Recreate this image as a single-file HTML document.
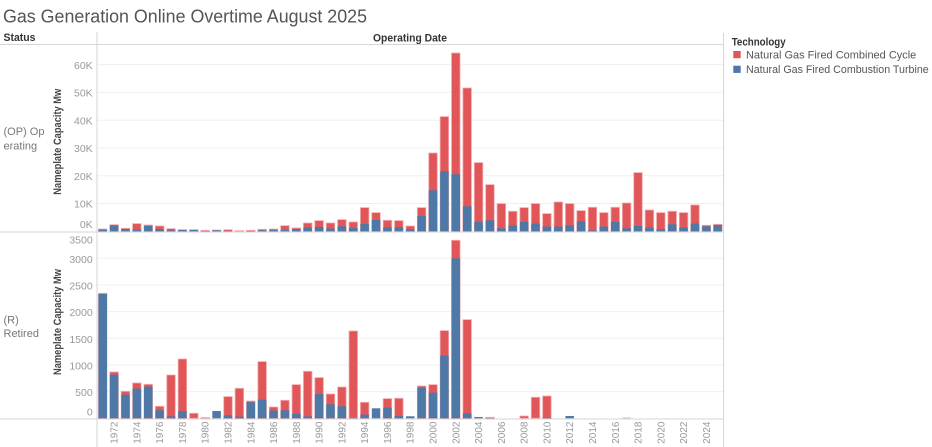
<!DOCTYPE html>
<html><head><meta charset="utf-8"><style>
html,body{margin:0;padding:0;background:#fff;}
svg{display:block;font-family:"Liberation Sans",sans-serif;}
</style></head><body>
<svg width="932" height="447" viewBox="0 0 932 447" xmlns="http://www.w3.org/2000/svg">
<rect width="932" height="447" fill="#fff"/>
<!-- title -->
<text x="3" y="22.5" font-size="18.5" fill="#555" textLength="364" lengthAdjust="spacingAndGlyphs">Gas Generation Online Overtime August 2025</text>
<!-- headers -->
<text x="3.5" y="41" font-size="11" font-weight="bold" fill="#333" textLength="32" lengthAdjust="spacingAndGlyphs">Status</text>
<text x="410" y="41.5" font-size="11" font-weight="bold" fill="#333" text-anchor="middle" textLength="74" lengthAdjust="spacingAndGlyphs">Operating Date</text>
<!-- gridlines -->
<g stroke="#f0f0f0" stroke-width="1">
<line x1="97" y1="203.5" x2="723" y2="203.5"/>
<line x1="97" y1="175.7" x2="723" y2="175.7"/>
<line x1="97" y1="147.9" x2="723" y2="147.9"/>
<line x1="97" y1="120.2" x2="723" y2="120.2"/>
<line x1="97" y1="92.4" x2="723" y2="92.4"/>
<line x1="97" y1="64.6" x2="723" y2="64.6"/>
<line x1="97" y1="391.6" x2="723" y2="391.6"/>
<line x1="97" y1="365" x2="723" y2="365"/>
<line x1="97" y1="338.3" x2="723" y2="338.3"/>
<line x1="97" y1="311.6" x2="723" y2="311.6"/>
<line x1="97" y1="285" x2="723" y2="285"/>
<line x1="97" y1="258.3" x2="723" y2="258.3"/>
</g>
<!-- structural lines -->
<g stroke="#d6d6d6" stroke-width="1">
<line x1="0" y1="44.5" x2="723.5" y2="44.5"/>
<line x1="0" y1="232" x2="723.5" y2="232"/>
<line x1="0" y1="419" x2="723.5" y2="419"/>
<line x1="97" y1="32" x2="97" y2="447"/>
<line x1="723.5" y1="33" x2="723.5" y2="447"/>
</g>
<!-- row labels -->
<g font-size="11" fill="#777">
<text x="3.5" y="135">(OP) Op</text>
<text x="3.5" y="149.5">erating</text>
<text x="3.5" y="323.3">(R)</text>
<text x="3.5" y="337">Retired</text>
</g>
<!-- axis titles -->
<text transform="translate(61,141.7) rotate(-90)" font-size="11" font-weight="bold" fill="#444" text-anchor="middle" textLength="106" lengthAdjust="spacingAndGlyphs">Nameplate Capacity Mw</text>
<text transform="translate(61,322) rotate(-90)" font-size="11" font-weight="bold" fill="#444" text-anchor="middle" textLength="106" lengthAdjust="spacingAndGlyphs">Nameplate Capacity Mw</text>
<!-- y tick labels -->
<g font-size="10.5" fill="#999" text-anchor="end">
<text x="92.7" y="68.8">60K</text>
<text x="92.7" y="96.6">50K</text>
<text x="92.7" y="124.4">40K</text>
<text x="92.7" y="152.1">30K</text>
<text x="92.7" y="179.9">20K</text>
<text x="92.7" y="207.7">10K</text>
<text x="92.7" y="228.2">0K</text>
<text x="92.7" y="243.3">3500</text>
<text x="92.7" y="262.8">3000</text>
<text x="92.7" y="289.5">2500</text>
<text x="92.7" y="316.1">2000</text>
<text x="92.7" y="342.8">1500</text>
<text x="92.7" y="369.5">1000</text>
<text x="92.7" y="396.1">500</text>
<text x="92.7" y="415.5">0</text>
</g>
<!-- top bars -->
<g transform="translate(98.45,231.3) scale(11.39,-1)">
<g fill="#e15759" stroke="#f3a9aa" stroke-width="0.8" vector-effect="non-scaling-stroke">
<rect x="0" width="0.746" height="2.33" vector-effect="non-scaling-stroke"/>
<rect x="1" width="0.746" height="6.67" vector-effect="non-scaling-stroke"/>
<rect x="2" width="0.746" height="3" vector-effect="non-scaling-stroke"/>
<rect x="3" width="0.746" height="7.67" vector-effect="non-scaling-stroke"/>
<rect x="4" width="0.746" height="6.33" vector-effect="non-scaling-stroke"/>
<rect x="5" width="0.746" height="5.33" vector-effect="non-scaling-stroke"/>
<rect x="6" width="0.746" height="2.67" vector-effect="non-scaling-stroke"/>
<rect x="7" width="0.746" height="1.67" vector-effect="non-scaling-stroke"/>
<rect x="8" width="0.746" height="1.67" vector-effect="non-scaling-stroke"/>
<rect x="9" width="0.746" height="1" vector-effect="non-scaling-stroke"/>
<rect x="10" width="0.746" height="1.33" vector-effect="non-scaling-stroke"/>
<rect x="11" width="0.746" height="1.67" vector-effect="non-scaling-stroke"/>
<rect x="12" width="0.746" height="0.6" vector-effect="non-scaling-stroke"/>
<rect x="13" width="0.746" height="1" vector-effect="non-scaling-stroke"/>
<rect x="14" width="0.746" height="2" vector-effect="non-scaling-stroke"/>
<rect x="15" width="0.746" height="2.33" vector-effect="non-scaling-stroke"/>
<rect x="16" width="0.746" height="5.67" vector-effect="non-scaling-stroke"/>
<rect x="17" width="0.746" height="3.33" vector-effect="non-scaling-stroke"/>
<rect x="18" width="0.746" height="8.33" vector-effect="non-scaling-stroke"/>
<rect x="19" width="0.746" height="10.67" vector-effect="non-scaling-stroke"/>
<rect x="20" width="0.746" height="8.33" vector-effect="non-scaling-stroke"/>
<rect x="21" width="0.746" height="11.67" vector-effect="non-scaling-stroke"/>
<rect x="22" width="0.746" height="9.33" vector-effect="non-scaling-stroke"/>
<rect x="23" width="0.746" height="23.67" vector-effect="non-scaling-stroke"/>
<rect x="24" width="0.746" height="18.67" vector-effect="non-scaling-stroke"/>
<rect x="25" width="0.746" height="11" vector-effect="non-scaling-stroke"/>
<rect x="26" width="0.746" height="10.67" vector-effect="non-scaling-stroke"/>
<rect x="27" width="0.746" height="5.33" vector-effect="non-scaling-stroke"/>
<rect x="28" width="0.746" height="23.67" vector-effect="non-scaling-stroke"/>
<rect x="29" width="0.746" height="78.33" vector-effect="non-scaling-stroke"/>
<rect x="30" width="0.746" height="114.67" vector-effect="non-scaling-stroke"/>
<rect x="31" width="0.746" height="178.33" vector-effect="non-scaling-stroke"/>
<rect x="32" width="0.746" height="143.33" vector-effect="non-scaling-stroke"/>
<rect x="33" width="0.746" height="68.67" vector-effect="non-scaling-stroke"/>
<rect x="34" width="0.746" height="46.67" vector-effect="non-scaling-stroke"/>
<rect x="35" width="0.746" height="27.67" vector-effect="non-scaling-stroke"/>
<rect x="36" width="0.746" height="20" vector-effect="non-scaling-stroke"/>
<rect x="37" width="0.746" height="23.67" vector-effect="non-scaling-stroke"/>
<rect x="38" width="0.746" height="27.67" vector-effect="non-scaling-stroke"/>
<rect x="39" width="0.746" height="17.67" vector-effect="non-scaling-stroke"/>
<rect x="40" width="0.746" height="29.33" vector-effect="non-scaling-stroke"/>
<rect x="41" width="0.746" height="27.67" vector-effect="non-scaling-stroke"/>
<rect x="42" width="0.746" height="20.67" vector-effect="non-scaling-stroke"/>
<rect x="43" width="0.746" height="24" vector-effect="non-scaling-stroke"/>
<rect x="44" width="0.746" height="18.67" vector-effect="non-scaling-stroke"/>
<rect x="45" width="0.746" height="24" vector-effect="non-scaling-stroke"/>
<rect x="46" width="0.746" height="28.33" vector-effect="non-scaling-stroke"/>
<rect x="47" width="0.746" height="58.67" vector-effect="non-scaling-stroke"/>
<rect x="48" width="0.746" height="21.33" vector-effect="non-scaling-stroke"/>
<rect x="49" width="0.746" height="18.67" vector-effect="non-scaling-stroke"/>
<rect x="50" width="0.746" height="20" vector-effect="non-scaling-stroke"/>
<rect x="51" width="0.746" height="18.67" vector-effect="non-scaling-stroke"/>
<rect x="52" width="0.746" height="26.33" vector-effect="non-scaling-stroke"/>
<rect x="53" width="0.746" height="6" vector-effect="non-scaling-stroke"/>
<rect x="54" width="0.746" height="7" vector-effect="non-scaling-stroke"/>
</g>
<g fill="#4e79a7">
<rect x="0" width="0.746" height="1.67"/>
<rect x="1" width="0.746" height="5.67"/>
<rect x="2" width="0.746" height="2.33"/>
<rect x="3" width="0.746" height="1.67"/>
<rect x="4" width="0.746" height="5.33"/>
<rect x="5" width="0.746" height="2.33"/>
<rect x="6" width="0.746" height="1"/>
<rect x="7" width="0.746" height="1.33"/>
<rect x="8" width="0.746" height="1.33"/>
<rect x="9" width="0.746" height="0.33"/>
<rect x="10" width="0.746" height="1"/>
<rect x="11" width="0.746" height="0.33"/>
<rect x="13" width="0.746" height="0.33"/>
<rect x="14" width="0.746" height="1"/>
<rect x="15" width="0.746" height="1.33"/>
<rect x="16" width="0.746" height="1.33"/>
<rect x="17" width="0.746" height="2.33"/>
<rect x="18" width="0.746" height="3.67"/>
<rect x="19" width="0.746" height="4.33"/>
<rect x="20" width="0.746" height="2.67"/>
<rect x="21" width="0.746" height="5"/>
<rect x="22" width="0.746" height="3.33"/>
<rect x="23" width="0.746" height="7.33"/>
<rect x="24" width="0.746" height="11.33"/>
<rect x="25" width="0.746" height="4"/>
<rect x="26" width="0.746" height="4"/>
<rect x="27" width="0.746" height="2"/>
<rect x="28" width="0.746" height="15.33"/>
<rect x="29" width="0.746" height="41"/>
<rect x="30" width="0.746" height="60"/>
<rect x="31" width="0.746" height="57"/>
<rect x="32" width="0.746" height="25"/>
<rect x="33" width="0.746" height="9.67"/>
<rect x="34" width="0.746" height="11"/>
<rect x="35" width="0.746" height="3"/>
<rect x="36" width="0.746" height="5.67"/>
<rect x="37" width="0.746" height="9.33"/>
<rect x="38" width="0.746" height="7.67"/>
<rect x="39" width="0.746" height="4.67"/>
<rect x="40" width="0.746" height="4.67"/>
<rect x="41" width="0.746" height="6"/>
<rect x="42" width="0.746" height="10"/>
<rect x="43" width="0.746" height="1"/>
<rect x="44" width="0.746" height="4.67"/>
<rect x="45" width="0.746" height="9.33"/>
<rect x="46" width="0.746" height="3"/>
<rect x="47" width="0.746" height="5.33"/>
<rect x="48" width="0.746" height="3.67"/>
<rect x="49" width="0.746" height="2.33"/>
<rect x="50" width="0.746" height="7"/>
<rect x="51" width="0.746" height="3.67"/>
<rect x="52" width="0.746" height="7.67"/>
<rect x="53" width="0.746" height="5"/>
<rect x="54" width="0.746" height="6.3"/>
</g>
</g>
<!-- bottom bars -->
<g transform="translate(98.45,418.3) scale(11.39,-1)">
<g fill="#e15759" stroke="#f3a9aa" stroke-width="0.8">
<rect x="0" width="0.746" height="125" vector-effect="non-scaling-stroke"/>
<rect x="1" width="0.746" height="46.33" vector-effect="non-scaling-stroke"/>
<rect x="2" width="0.746" height="27" vector-effect="non-scaling-stroke"/>
<rect x="3" width="0.746" height="35.33" vector-effect="non-scaling-stroke"/>
<rect x="4" width="0.746" height="34" vector-effect="non-scaling-stroke"/>
<rect x="5" width="0.746" height="12" vector-effect="non-scaling-stroke"/>
<rect x="6" width="0.746" height="43.33" vector-effect="non-scaling-stroke"/>
<rect x="7" width="0.746" height="59.33" vector-effect="non-scaling-stroke"/>
<rect x="8" width="0.746" height="5" vector-effect="non-scaling-stroke"/>
<rect x="9" width="0.746" height="0.8" fill="#f0a0a1" vector-effect="non-scaling-stroke"/>
<rect x="11" width="0.746" height="21.67" vector-effect="non-scaling-stroke"/>
<rect x="12" width="0.746" height="30" vector-effect="non-scaling-stroke"/>
<rect x="13" width="0.746" height="17.33" vector-effect="non-scaling-stroke"/>
<rect x="14" width="0.746" height="56.67" vector-effect="non-scaling-stroke"/>
<rect x="15" width="0.746" height="11.33" vector-effect="non-scaling-stroke"/>
<rect x="16" width="0.746" height="18" vector-effect="non-scaling-stroke"/>
<rect x="17" width="0.746" height="33.67" vector-effect="non-scaling-stroke"/>
<rect x="18" width="0.746" height="47" vector-effect="non-scaling-stroke"/>
<rect x="19" width="0.746" height="40.67" vector-effect="non-scaling-stroke"/>
<rect x="20" width="0.746" height="24.33" vector-effect="non-scaling-stroke"/>
<rect x="21" width="0.746" height="31.33" vector-effect="non-scaling-stroke"/>
<rect x="22" width="0.746" height="87.33" vector-effect="non-scaling-stroke"/>
<rect x="23" width="0.746" height="16" vector-effect="non-scaling-stroke"/>
<rect x="25" width="0.746" height="19.67" vector-effect="non-scaling-stroke"/>
<rect x="26" width="0.746" height="20" vector-effect="non-scaling-stroke"/>
<rect x="28" width="0.746" height="32.33" vector-effect="non-scaling-stroke"/>
<rect x="29" width="0.746" height="33.67" vector-effect="non-scaling-stroke"/>
<rect x="30" width="0.746" height="87.67" vector-effect="non-scaling-stroke"/>
<rect x="31" width="0.746" height="178" vector-effect="non-scaling-stroke"/>
<rect x="32" width="0.746" height="98.67" vector-effect="non-scaling-stroke"/>
<rect x="34" width="0.746" height="1" vector-effect="non-scaling-stroke"/>
<rect x="37" width="0.746" height="2.33" vector-effect="non-scaling-stroke"/>
<rect x="38" width="0.746" height="21" vector-effect="non-scaling-stroke"/>
<rect x="39" width="0.746" height="22.33" vector-effect="non-scaling-stroke"/>
</g>
<g fill="#4e79a7">
<rect x="0" width="0.746" height="124.33"/>
<rect x="1" width="0.746" height="43.67"/>
<rect x="2" width="0.746" height="23.67"/>
<rect x="3" width="0.746" height="29.67"/>
<rect x="4" width="0.746" height="31.67"/>
<rect x="5" width="0.746" height="8"/>
<rect x="6" width="0.746" height="2"/>
<rect x="7" width="0.746" height="7.33"/>
<rect x="10" width="0.746" height="7.33"/>
<rect x="11" width="0.746" height="3"/>
<rect x="12" width="0.746" height="1.67"/>
<rect x="13" width="0.746" height="16"/>
<rect x="14" width="0.746" height="18.67"/>
<rect x="15" width="0.746" height="7.67"/>
<rect x="16" width="0.746" height="8"/>
<rect x="17" width="0.746" height="4.33"/>
<rect x="18" width="0.746" height="2"/>
<rect x="19" width="0.746" height="24.33"/>
<rect x="20" width="0.746" height="14"/>
<rect x="21" width="0.746" height="12"/>
<rect x="22" width="0.746" height="0.33"/>
<rect x="23" width="0.746" height="3.67"/>
<rect x="24" width="0.746" height="10"/>
<rect x="25" width="0.746" height="10.67"/>
<rect x="26" width="0.746" height="2.33"/>
<rect x="27" width="0.746" height="2"/>
<rect x="28" width="0.746" height="30.67"/>
<rect x="29" width="0.746" height="25.67"/>
<rect x="30" width="0.746" height="62.67"/>
<rect x="31" width="0.746" height="160"/>
<rect x="32" width="0.746" height="5"/>
<rect x="33" width="0.746" height="1.33"/>
<rect x="34" width="0.746" height="0.33"/>
<rect x="39" width="0.746" height="0.67"/>
<rect x="41" width="0.746" height="2.33"/>
<rect x="46" width="0.746" height="0.8" fill="#a9bdd3"/>
</g>
</g>
<!-- x axis labels -->
<g font-size="10" fill="#999" text-anchor="end">
<text transform="translate(117.59,421.5) rotate(-90)">1972</text>
<text transform="translate(140.37,421.5) rotate(-90)">1974</text>
<text transform="translate(163.15,421.5) rotate(-90)">1976</text>
<text transform="translate(185.93,421.5) rotate(-90)">1978</text>
<text transform="translate(208.71,421.5) rotate(-90)">1980</text>
<text transform="translate(231.49,421.5) rotate(-90)">1982</text>
<text transform="translate(254.27,421.5) rotate(-90)">1984</text>
<text transform="translate(277.05,421.5) rotate(-90)">1986</text>
<text transform="translate(299.83,421.5) rotate(-90)">1988</text>
<text transform="translate(322.61,421.5) rotate(-90)">1990</text>
<text transform="translate(345.39,421.5) rotate(-90)">1992</text>
<text transform="translate(368.17,421.5) rotate(-90)">1994</text>
<text transform="translate(390.95,421.5) rotate(-90)">1996</text>
<text transform="translate(413.73,421.5) rotate(-90)">1998</text>
<text transform="translate(436.51,421.5) rotate(-90)">2000</text>
<text transform="translate(459.29,421.5) rotate(-90)">2002</text>
<text transform="translate(482.07,421.5) rotate(-90)">2004</text>
<text transform="translate(504.85,421.5) rotate(-90)">2006</text>
<text transform="translate(527.63,421.5) rotate(-90)">2008</text>
<text transform="translate(550.41,421.5) rotate(-90)">2010</text>
<text transform="translate(573.19,421.5) rotate(-90)">2012</text>
<text transform="translate(595.97,421.5) rotate(-90)">2014</text>
<text transform="translate(618.75,421.5) rotate(-90)">2016</text>
<text transform="translate(641.53,421.5) rotate(-90)">2018</text>
<text transform="translate(664.31,421.5) rotate(-90)">2020</text>
<text transform="translate(687.09,421.5) rotate(-90)">2022</text>
<text transform="translate(709.87,421.5) rotate(-90)">2024</text>
</g>
<!-- legend -->
<text x="731.7" y="45.5" font-size="11" font-weight="bold" fill="#333" textLength="54" lengthAdjust="spacingAndGlyphs">Technology</text>
<rect x="733.3" y="51" width="7.4" height="7.2" fill="#e15759"/>
<rect x="733.3" y="65.7" width="7.4" height="7.2" fill="#4e79a7"/>
<text x="746" y="58.6" font-size="11" fill="#555" textLength="170.3" lengthAdjust="spacingAndGlyphs">Natural Gas Fired Combined Cycle</text>
<text x="746" y="73.2" font-size="11" fill="#555" textLength="182.7" lengthAdjust="spacingAndGlyphs">Natural Gas Fired Combustion Turbine</text>
</svg>
</body></html>
